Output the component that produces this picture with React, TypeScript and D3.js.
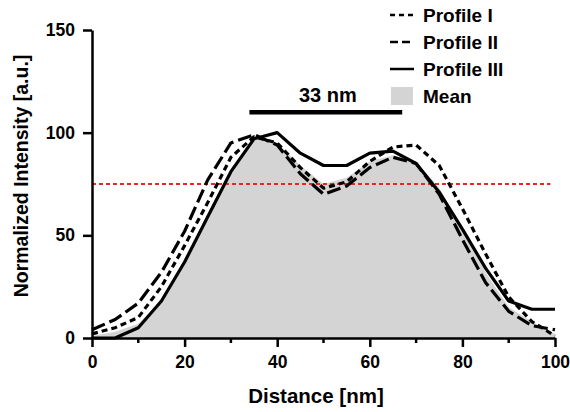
import React, { useEffect, useRef } from "react";
import * as d3 from "d3";

// distance in nm, sampled every 5 nm
const distance = [0, 5, 10, 15, 20, 25, 30, 35, 40, 45, 50, 55, 60, 65, 70, 75, 80, 85, 90, 95, 100];

const profileI = [2, 5, 10, 25, 45, 66, 88, 98, 95, 83, 73, 76, 86, 93, 94, 84, 63, 41, 20, 8, 1];
const profileII = [4, 9, 17, 32, 52, 77, 95, 99, 94, 80, 70, 74, 83, 88, 85, 70, 48, 27, 13, 6, 4];
const profileIII = [0, 0, 5, 18, 37, 59, 81, 97, 100, 90, 84, 84, 90, 91, 85, 71, 53, 34, 18, 14, 14];
const meanValues = [1, 3, 7, 18, 38, 60, 82, 97, 95, 84, 75, 78, 86, 89, 86, 73, 53, 32, 15, 8, 2];

const xTicks = [0, 20, 40, 60, 80, 100];
const xMinorTicks = [10, 30, 50, 70, 90];
const yTicks = [0, 50, 100, 150];

const threshold = 75;
const scaleBar = { from: 34, to: 67, y: 110, label: "33 nm" };

const series = [
  { name: "Profile I", values: profileI, dash: "6,4", legendDash: "5,4" },
  { name: "Profile II", values: profileII, dash: "14,5", legendDash: "8,4" },
  { name: "Profile III", values: profileIII, dash: null, legendDash: null },
];

const App = () => {
  const svgRef = useRef<SVGSVGElement>(null);

  useEffect(() => {
    const svg = d3.select(svgRef.current);
    svg.selectAll("*").remove();

    const font = "'Liberation Sans', Arial, sans-serif";
    const x = d3.scaleLinear().domain([0, 100]).range([92, 555]);
    const y = d3.scaleLinear().domain([0, 150]).range([338, 30]);

    // mean as grey area
    const area = d3
      .area<number>()
      .x((d, i) => x(distance[i]))
      .y0(y(0))
      .y1((d) => y(d));
    svg.append("path").attr("d", area(meanValues)).attr("fill", "#d4d4d4");

    // threshold line
    svg
      .append("line")
      .attr("x1", x(0))
      .attr("x2", x(99))
      .attr("y1", y(threshold))
      .attr("y2", y(threshold))
      .attr("stroke", "#e8271f")
      .attr("stroke-width", 2)
      .attr("stroke-dasharray", "4,3");

    // profiles
    const line = d3
      .line<number>()
      .x((d, i) => x(distance[i]))
      .y((d) => y(d));
    series.forEach((s) => {
      svg
        .append("path")
        .attr("d", line(s.values))
        .attr("fill", "none")
        .attr("stroke", "#000")
        .attr("stroke-width", 3.2)
        .attr("stroke-linejoin", "round")
        .attr("stroke-dasharray", s.dash);
    });

    // axes
    const xAxis = svg.append("g").attr("transform", `translate(0,${y(0)})`);
    xAxis
      .call(d3.axisBottom(x).tickValues(xTicks).tickSize(9).tickSizeOuter(0).tickPadding(9))
      .call((g) => g.select(".domain").attr("stroke-width", 2.5));
    xAxis.selectAll(".tick line").attr("stroke-width", 2.5);
    xAxis.selectAll("text").attr("font-size", 17.5).attr("font-weight", "bold").attr("font-family", font).attr("fill", "#000");
    svg
      .append("g")
      .attr("transform", `translate(0,${y(0)})`)
      .selectAll("line")
      .data(xMinorTicks)
      .join("line")
      .attr("x1", (d) => x(d))
      .attr("x2", (d) => x(d))
      .attr("y1", 0)
      .attr("y2", 5)
      .attr("stroke", "#000")
      .attr("stroke-width", 2.5);

    const yAxis = svg.append("g").attr("transform", `translate(${x(0)},0)`);
    yAxis
      .call(d3.axisLeft(y).tickValues(yTicks).tickSize(9).tickSizeOuter(0).tickPadding(8))
      .call((g) => g.select(".domain").attr("stroke-width", 2.5));
    yAxis.selectAll(".tick line").attr("stroke-width", 2.5);
    yAxis.selectAll("text").attr("font-size", 17.5).attr("font-weight", "bold").attr("font-family", font).attr("fill", "#000");

    // axis titles
    svg
      .append("text")
      .attr("x", 316)
      .attr("y", 403)
      .attr("text-anchor", "middle")
      .attr("font-size", 20.5)
      .attr("font-weight", "bold")
      .attr("font-family", font)
      .text("Distance [nm]");
    svg
      .append("text")
      .attr("transform", "translate(28,176) rotate(-90)")
      .attr("text-anchor", "middle")
      .attr("font-size", 19.5)
      .attr("font-weight", "bold")
      .attr("font-family", font)
      .text("Normalized Intensity [a.u.]");

    // scale bar
    svg
      .append("line")
      .attr("x1", x(scaleBar.from))
      .attr("x2", x(scaleBar.to))
      .attr("y1", y(scaleBar.y))
      .attr("y2", y(scaleBar.y))
      .attr("stroke", "#000")
      .attr("stroke-width", 4.5);
    svg
      .append("text")
      .attr("x", (x(scaleBar.from) + x(scaleBar.to)) / 2 + 2)
      .attr("y", y(scaleBar.y) - 10)
      .attr("text-anchor", "middle")
      .attr("font-size", 20)
      .attr("font-weight", "bold")
      .attr("font-family", font)
      .text(scaleBar.label);

    // legend
    const legendItems = [
      ...series.map((s) => ({ name: s.name, dash: s.legendDash, box: false })),
      { name: "Mean", dash: null, box: true },
    ];
    const legend = svg
      .selectAll("g.legend")
      .data(legendItems)
      .join("g")
      .attr("class", "legend")
      .attr("transform", (d, i) => `translate(390,${15 + i * 27})`);
    legend
      .filter((d) => !d.box)
      .append("line")
      .attr("x1", 0)
      .attr("x2", 24)
      .attr("stroke", "#000")
      .attr("stroke-width", 2.5)
      .attr("stroke-dasharray", (d) => d.dash);
    legend
      .filter((d) => d.box)
      .append("rect")
      .attr("x", 1)
      .attr("y", -9)
      .attr("width", 22)
      .attr("height", 18)
      .attr("fill", "#d4d4d4");
    legend
      .append("text")
      .attr("x", 33)
      .attr("dy", "0.36em")
      .attr("font-size", 19)
      .attr("font-weight", "bold")
      .attr("font-family", font)
      .text((d) => d.name);
  }, []);

  return <svg ref={svgRef} width={570} height={412} style={{ position: "absolute", left: 0, top: 0, background: "#fff" }} />;
};

export default App;
